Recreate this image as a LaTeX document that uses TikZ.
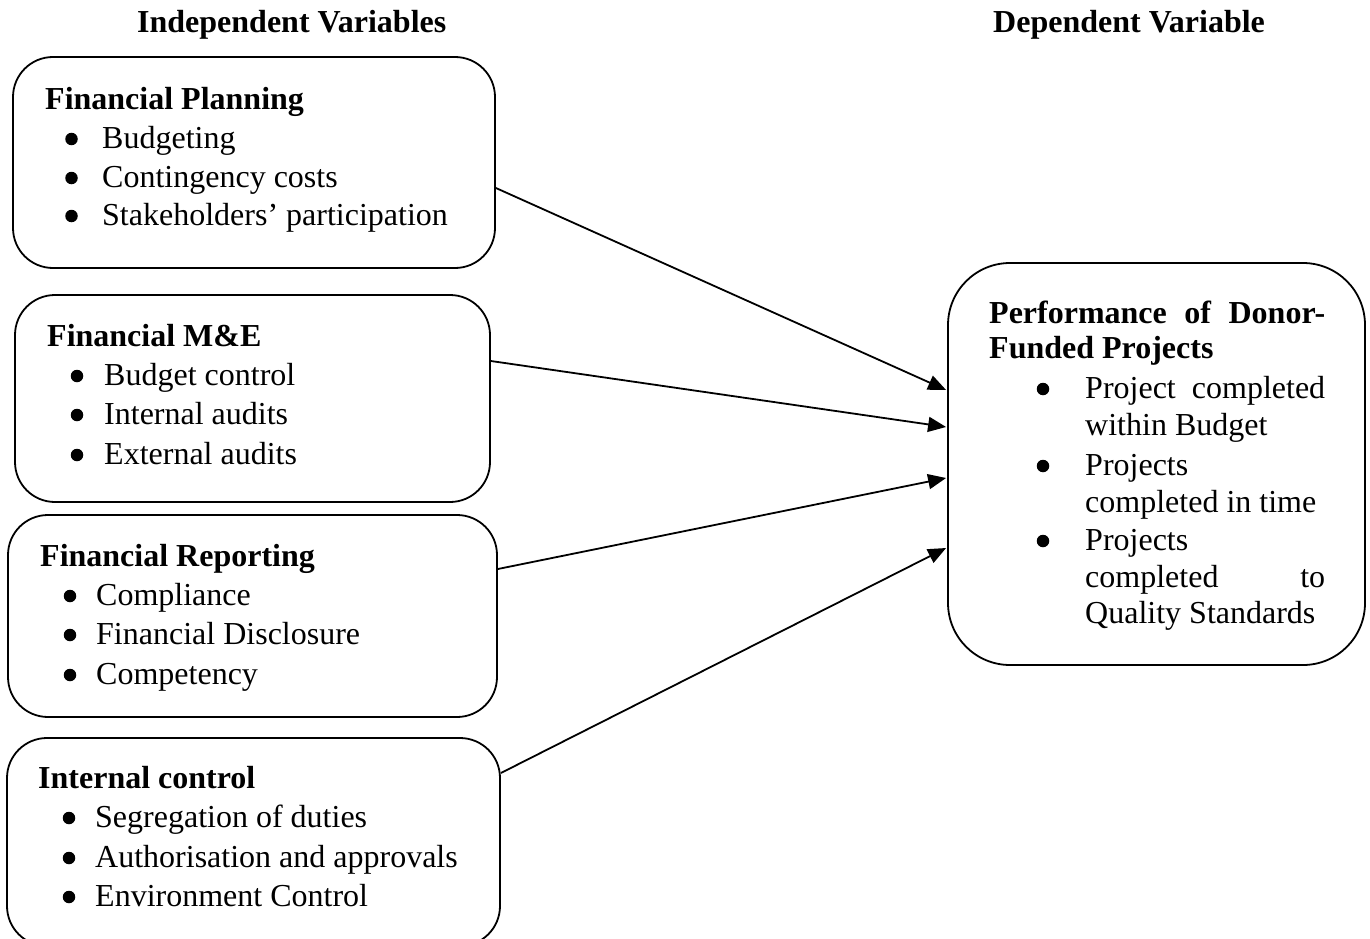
\documentclass[tikz,border=0pt]{standalone}
\usepackage{fontspec}
\setmainfont{Liberation Serif}
\usetikzlibrary{arrows.meta}
\begin{document}
\begin{tikzpicture}[x=1pt,y=-1pt,
  box/.style={draw, line width=1.8pt, rounded corners=40pt, inner sep=0pt},
  lbl/.style={anchor=base west, inner sep=0pt, font=\fontsize{32}{38}\selectfont},
  hd/.style={anchor=base west, inner sep=0pt, font=\fontsize{32}{38}\selectfont\bfseries},
  dot/.style={circle, fill, inner sep=0pt, minimum size=12.5pt},
  conn/.style={line width=1.8pt, -{Triangle[length=18pt,width=15pt]}}
]
\clip (0,0) rectangle (1370,939);
% headers
\node[hd] (hi) at (137,33) {Independent Variables};
\node[hd] (hdv) at (993,33) {Dependent Variable};
% boxes
\node[box, minimum width=482pt, minimum height=211pt] (b1) at (254,162.5) {};
\node[box, minimum width=475pt, minimum height=207pt] (b2) at (252.5,398.5) {};
\node[box, minimum width=489pt, minimum height=202pt] (b3) at (252.5,616) {};
\node[box, minimum width=493pt, minimum height=208pt] (b4) at (253.5,842) {};
\node[box, rounded corners=62pt, minimum width=417pt, minimum height=402pt] (dv) at (1156.5,464) {};
% box 1
\node[hd] (t1) at (45,110) {Financial Planning};
\node[dot] (d11) at (71.5,139) {};
\node[lbl] (l11) at (102,148) {Budgeting};
\node[dot] (d12) at (71.5,178) {};
\node[lbl] (l12) at (102,187) {Contingency costs};
\node[dot] (d13) at (71.5,216) {};
\node[lbl] (l13) at (102,225) {Stakeholders’ participation};
% box 2
\node[hd] (t2) at (47,346) {Financial M\&E};
\node[dot] (d21) at (77,376) {};
\node[lbl] (l21) at (104,385) {Budget control};
\node[dot] (d22) at (77,415) {};
\node[lbl] (l22) at (104,424) {Internal audits};
\node[dot] (d23) at (77,455) {};
\node[lbl] (l23) at (104,464) {External audits};
% box 3
\node[hd] (t3) at (40,566) {Financial Reporting};
\node[dot] (d31) at (70,596) {};
\node[lbl] (l31) at (96,605) {Compliance};
\node[dot] (d32) at (70,635) {};
\node[lbl] (l32) at (96,644) {Financial Disclosure};
\node[dot] (d33) at (70,675) {};
\node[lbl] (l33) at (96,684) {Competency};
% box 4
\node[hd] (t4) at (38,788) {Internal control};
\node[dot] (d41) at (69,818) {};
\node[lbl] (l41) at (95,827) {Segregation of duties};
\node[dot] (d42) at (69,858) {};
\node[lbl] (l42) at (95,867) {Authorisation and approvals};
\node[dot] (d43) at (69,897) {};
\node[lbl] (l43) at (95,906) {Environment Control};
% dependent box
\node[hd] (t5a) at (989,323) {\makebox[336pt][s]{Performance of Donor-}};
\node[hd] (t5b) at (989,358) {Funded Projects};
\node[dot] (d51) at (1043,389) {};
\node[lbl] (l51a) at (1085,398) {\makebox[240pt][s]{Project completed}};
\node[lbl] (l51b) at (1085,435) {within Budget};
\node[dot] (d52) at (1043,466) {};
\node[lbl] (l52a) at (1085,475) {Projects};
\node[lbl] (l52b) at (1085,512) {completed in time};
\node[dot] (d53) at (1043,541) {};
\node[lbl] (l53a) at (1085,550) {Projects};
\node[lbl] (l53b) at (1085,587) {\makebox[240pt][s]{completed to}};
\node[lbl] (l53c) at (1085,623) {Quality Standards};
% connectors
\draw[conn] ([yshift=-25.5pt]b1.east) -- ([xshift=-1pt,yshift=74pt]dv.west);
\draw[conn] ([yshift=37.5pt]b2.east) -- ([xshift=-1pt,yshift=37pt]dv.west);
\draw[conn] ([yshift=47pt]b3.east) -- ([xshift=-1pt,yshift=-14pt]dv.west);
\draw[conn] ([yshift=69pt]b4.east) -- ([xshift=-1pt,yshift=-84pt]dv.west);
\end{tikzpicture}
\end{document}
